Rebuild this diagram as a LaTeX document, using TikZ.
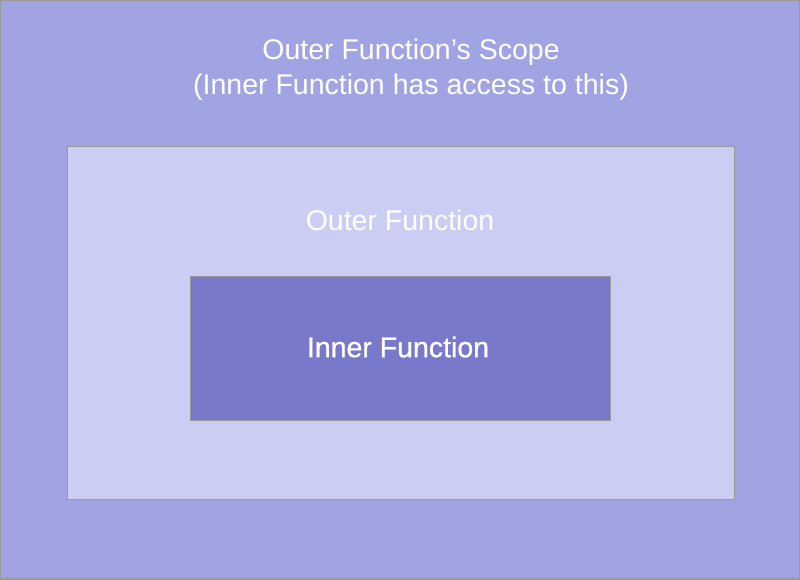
\documentclass[tikz,border=0pt]{standalone}
\usepackage{fontspec}
\setmainfont{Liberation Sans}
\newfontfamily\medfont[FakeBold=0.8]{Liberation Sans}
\definecolor{bgc}{HTML}{A0A4E2}
\definecolor{outc}{HTML}{CCCDF3}
\definecolor{innc}{HTML}{7879CB}
\definecolor{edgec}{HTML}{999999}
\begin{document}
\begin{tikzpicture}[x=1pt,y=-1pt,
  lbl/.style={text=white,font=\fontsize{28.5}{35}\selectfont,align=center,inner sep=0pt},
  boxs/.style={draw=edgec,line width=1pt}]
\useasboundingbox (0,0) rectangle (800,579);
\filldraw[fill=bgc,draw=edgec,line width=2pt] (0,0) rectangle (800,579);
\filldraw[boxs,fill=outc] (67,146) rectangle (734,499);
\filldraw[boxs,fill=innc] (190,276) rectangle (610,420);
\node[lbl] (title) at (411,70) {Outer Function’s Scope\\(Inner Function has access to this)};
\node[lbl] (outer) at (400,220) {Outer Function};
\node[lbl,font=\medfont\fontsize{28.5}{35}\selectfont] (inner) at (398,347) {Inner Function};
\end{tikzpicture}
\end{document}
